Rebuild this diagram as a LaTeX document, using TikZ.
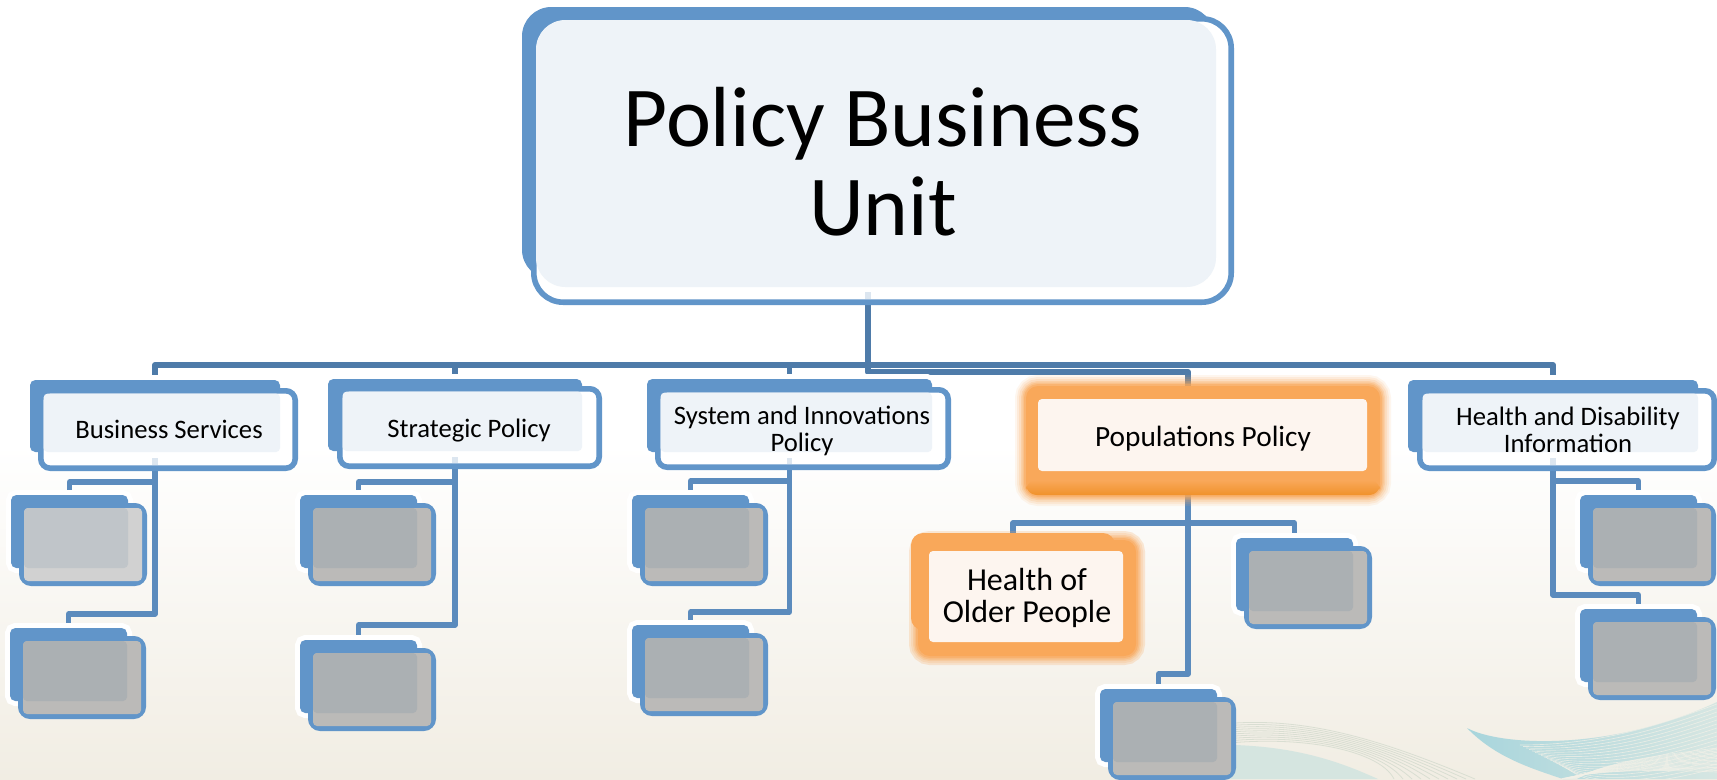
\documentclass[tikz,border=0pt]{standalone}
\usepackage{fontspec}
\setmainfont{Carlito}
\usetikzlibrary{calc}
\pgfdeclarelayer{bgl}\pgfdeclarelayer{links}\pgfsetlayers{bgl,links,main}
\definecolor{cblue}{HTML}{6195C9}
\definecolor{clink}{HTML}{5B8BBD}
\definecolor{clinkd}{HTML}{4E7BA9}
\definecolor{cpale}{HTML}{EEF3F8}
\definecolor{cstub}{HTML}{DCE6F0}
\definecolor{corange}{HTML}{F9A85A}
\definecolor{corangep}{HTML}{FDF5EF}
\definecolor{corangeD}{HTML}{F0922B}
\definecolor{cgrayA}{HTML}{BBBAB8}
\definecolor{cgrayB}{HTML}{ABB0B3}
\definecolor{cgrayAl}{HTML}{D1D1D1}
\definecolor{cgrayBl}{HTML}{C0C5C9}
\definecolor{cbgbot}{HTML}{F1EDE3}
\definecolor{cswA}{HTML}{D5E5E0}
\definecolor{cswB}{HTML}{D9DED2}
\definecolor{cswC}{HTML}{A8D5DC}
\definecolor{cswD}{HTML}{D6E6E2}
\definecolor{cswE}{HTML}{F3F1E8}
\tikzset{
  conn/.style={draw=clink,line width=4pt,line join=round},
  connd/.style={draw=clinkd,line width=4.4pt,line join=round},
  stubline/.style={draw=cstub,line width=4pt,shorten >=2.1pt},
  boxbase/.style={inner sep=0pt,outer sep=0pt,anchor=north west},
  backbox/.style={boxbase,fill=cblue,rounded corners=4pt},
  halo/.style={preaction={draw=white,line width=7.5pt}},
  frontbox/.style={boxbase,draw=cblue,fill=white,line width=4.2pt,rounded corners=7pt},
  palebox/.style={boxbase,fill=cpale,rounded corners=3pt},
  orangebox/.style={boxbase,fill=corange,rounded corners=9pt},
  orangepale/.style={boxbase,fill=corangep,rounded corners=3pt},
  lab/.style={inner sep=0pt,align=center,text=black},
}
\newcommand{\rb}[6]{\node[#1,minimum width={(#5-#3)*0.75pt},minimum height={(#6-#4)*0.75pt}] (#2) at ({#3},{#4}) {};}
% outlined box given by outer edges
\newcommand{\ob}[6]{\node[#1,minimum width={(#5-#3-5.6)*0.75pt},minimum height={(#6-#4-5.6)*0.75pt}] (#2) at ({#3+2.8},{#4+2.8}) {};}
% named card: back, front outer, pale
\newcommand{\card}[9]{%
  \rb{backbox,halo}{#1}{#2}{#3}{#4}{#5}%
  \ob{frontbox}{#1f}{#6}{#7}{#8}{#9}%
  \rb{palebox}{#1p}{(#6+5.6)}{(#7+5.6)}{#4}{#5}%
  \draw[stubline] ($(#1.south)+(0,6)$) -- (#1.south |- #1f.south);
}
\newcommand{\subcard}[5]{%
  \rb{backbox,halo}{#1}{#2}{#3}{(#2+117)}{(#3+73)}%
  \ob{frontbox,fill=white}{#1f}{(#2+8)}{(#3+8)}{(#2+136)}{(#3+91)}%
  \rb{boxbase,fill=#4,rounded corners=3pt}{#1i}{(#2+13)}{(#3+13)}{(#2+131)}{(#3+86)}%
  \rb{boxbase,fill=#5,rounded corners=3pt}{#1o}{(#2+13)}{(#3+13)}{(#2+117)}{(#3+73)}%
}
\newcommand{\glowrect}[2][22]{%
  \foreach \w/\o in {#1/.10,18/.14,14/.18,10/.25,7/.35,4/.5}{
    \draw[corange,opacity=\o,line width=\w*0.75pt,rounded corners=9pt] (#2.north west) rectangle (#2.south east);
  }%
}
\newcommand{\tlink}[4][conn]{\draw[#1] (#2.south) -- (#2.south |- 0,#3) -| (#4.north);}
\begin{document}
\begin{tikzpicture}[x=0.75pt,y=-0.75pt]
\useasboundingbox (0,0) rectangle (1717,779);
\begin{pgfonlayer}{bgl}
  \fill[white] (0,0) rectangle (1717,779);
  \shade[top color=white,bottom color=cbgbot] (0,445) rectangle (1717,779);
  \begin{scope}
    \clip (0,0) rectangle (1717,779);
    % left swoosh
    \fill[cswA] (1200,745) .. controls (1290,742) and (1340,762) .. (1378,779) -- (1200,779) -- cycle;
    \foreach \i in {0,...,9}{
      \draw[cswB,line width=0.6pt] (1200,{727+\i*2.2}) .. controls (1290,{712+\i*2.2}) and ({1370+\i},{735+\i*1.5}) .. ({1475-\i*9},779);
    }
    % right swoosh
    \path[left color=cswC,right color=cswD] (1467,728) .. controls (1500,746) and (1610,752) .. (1717,702) -- (1717,779) -- (1563,779) .. controls (1530,768) and (1495,757) .. (1467,728) -- cycle;
    \begin{scope}
      \clip (1467,728) .. controls (1500,746) and (1610,752) .. (1717,702) -- (1717,779) -- (1563,779) .. controls (1530,768) and (1495,757) .. (1467,728) -- cycle;
      \foreach \i in {0,...,16}{
        \draw[cswE,opacity=.75,line width=0.5pt] ({1520+\i*3},{745+\i*1.5}) .. controls (1600,{745+\i*3}) and (1660,{725+\i*3.6}) .. (1717,{704+\i*4});
        \draw[cswE,opacity=.75,line width=0.5pt] ({1560+\i},779) .. controls (1610,{768-\i*0.5}) and (1670,{770-\i}) .. (1717,{772-\i*1.5});
      }
    \end{scope}
  \end{scope}
\end{pgfonlayer}

% top box
\rb{backbox,rounded corners=22pt}{top}{522}{7}{1214}{279}
\ob{frontbox,rounded corners=22pt}{topf}{531}{16}{1234}{305}
\rb{palebox,rounded corners=22pt}{topp}{536}{20}{1216}{287}
\draw[stubline] ($(top.south)+(0,13)$) -- (top.south |- topf.south);

% level one
\card{bs}{30}{380}{280}{452}{38}{388}{298}{471}
\card{sp}{328}{379}{582}{451}{337}{386}{602}{469}
\card{si}{647}{379}{932}{452}{655}{387}{951}{470}
\card{hd}{1408}{380}{1698}{452}{1417}{388}{1717}{471}

% populations (highlighted)
\rb{boxbase}{pp}{1024}{386}{1352}{470}
\rb{orangebox}{ppb}{1026}{386}{1380}{495}
\glowrect{ppb}
\shade[top color=corange,bottom color=corangeD,rounded corners=8pt] (ppb.west |- 0,480) rectangle (ppb.south east);
\rb{orangepale}{ppp}{1038}{399}{1367}{471}

% health of older people (highlighted)
\rb{orangebox}{ho}{911}{533}{1115}{630}
\rb{orangebox}{hof}{918}{540}{1136}{656}
\glowrect[18]{hof}
\rb{orangepale}{hop}{929}{551}{1123}{642}

% small grey cards
\subcard{aa}{11}{495}{cgrayAl}{cgrayBl}
\subcard{ab}{10}{628}{cgrayA}{cgrayB}
\subcard{ba}{300}{495}{cgrayA}{cgrayB}
\subcard{bb}{300}{640}{cgrayA}{cgrayB}
\subcard{ca}{632}{495}{cgrayA}{cgrayB}
\subcard{cb}{632}{625}{cgrayA}{cgrayB}
\subcard{da}{1236}{538}{cgrayA}{cgrayB}
\subcard{db}{1100}{689}{cgrayA}{cgrayB}
\subcard{ea}{1580}{495}{cgrayA}{cgrayB}
\subcard{eb}{1580}{609}{cgrayA}{cgrayB}

% labels
\node[lab,font=\fontsize{64}{67}\selectfont] (ltop) at (883,162) {Policy Business\\Unit};
\node[lab,font=\fontsize{20}{21}\selectfont,anchor=base] (lbs) at (169,438) {Business Services};
\node[lab,font=\fontsize{20}{21}\selectfont,anchor=base] (lsp) at (469,437) {Strategic Policy};
\node[lab,font=\fontsize{20}{20}\selectfont] (lsi) at (802,431) {System and Innovations\\Policy};
\node[lab,font=\fontsize{22}{21}\selectfont,anchor=base] (lpp) at (1203,446) {Populations Policy};
\node[lab,font=\fontsize{20}{20}\selectfont] (lhd) at (1568,430) {Health and Disability\\Information};
\node[lab,font=\fontsize{24}{24}\selectfont] (lho) at (1027,598) {Health of\\Older People};

% connectors
\begin{pgfonlayer}{links}
  \tlink[connd]{top}{365}{bs}
  \tlink[connd]{top}{365}{sp}
  \tlink[connd]{top}{365}{si}
  \tlink[connd]{top}{365}{hd}
  \tlink[connd]{top}{372}{pp}
  \tlink{bs}{482}{aa}
  \tlink{bs}{614}{ab}
  \tlink{sp}{482}{ba}
  \tlink{sp}{625}{bb}
  \tlink{si}{481}{ca}
  \tlink{si}{612}{cb}
  \tlink{pp}{523}{ho}
  \tlink{pp}{523}{da}
  \tlink{pp}{674}{db}
  \tlink{hd}{481}{ea}
  \tlink{hd}{595}{eb}
\end{pgfonlayer}
\end{tikzpicture}
\end{document}
